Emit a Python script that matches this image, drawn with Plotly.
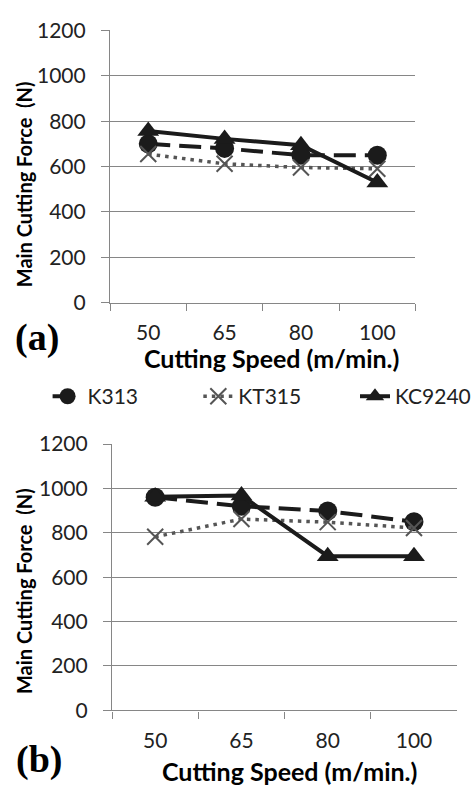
import plotly.graph_objects as go

speeds = ["50", "65", "80", "100"]
series_names = ["K313", "KT315", "KC9240"]

# Panel (a)
a_k313 = [700, 680, 650, 650]
a_kt315 = [655, 612, 596, 590]
a_kc9240 = [757, 722, 694, 530]

# Panel (b)
b_k313 = [960, 920, 898, 850]
b_kt315 = [782, 862, 848, 822]
b_kc9240 = [962, 968, 695, 695]

y_ticks = [0, 200, 400, 600, 800, 1000, 1200]

GRID = "#868686"
DARK = "#1b1b1b"
DOTC = "#555555"
FONT = "Lato"

styles = {
    "K313": dict(line=dict(color=DARK, width=4, dash="22px,9px"),
                 marker=dict(symbol="circle", size=19, color=DARK)),
    "KT315": dict(line=dict(color=DOTC, width=3.5, dash="3.5px,5px"),
                  marker=dict(symbol="x-thin", size=16, color=DOTC,
                              line=dict(color=DOTC, width=2))),
    "KC9240": dict(line=dict(color=DARK, width=4),
                   marker=dict(symbol="triangle-up", size=19, color=DARK)),
}
legend_ids = {"K313": "legend", "KT315": "legend2", "KC9240": "legend3"}

fig = go.Figure()
panels = [("x", "y", [a_k313, a_kt315, a_kc9240], True),
          ("x2", "y2", [b_k313, b_kt315, b_kc9240], False)]
for xa, ya, data, show in panels:
    for name, vals in zip(series_names, data):
        fig.add_trace(go.Scatter(x=speeds, y=vals, mode="lines+markers", name=name,
                                 xaxis=xa, yaxis=ya, showlegend=show,
                                 legend=legend_ids[name], **styles[name]))

W, H = 476, 795

xcommon = dict(type="category", tickson="boundaries", ticks="outside", ticklen=7,
               tickcolor=GRID, tickwidth=1.3, showline=True, linecolor=GRID, linewidth=1.3,
               showgrid=False, zeroline=False, range=[-0.5, 3.5],
               tickfont=dict(family=FONT, size=21, color="#222"), ticklabelstandoff=11,
               fixedrange=True)
ycommon = dict(range=[0, 1200], tickvals=y_ticks, ticks="outside", ticklen=8,
               tickcolor=GRID, tickwidth=1.3, showline=True, linecolor=GRID, linewidth=1.3,
               showgrid=True, gridcolor=GRID, gridwidth=1.3, zeroline=False,
               tickfont=dict(family=FONT, size=21, color="#222"), ticklabelstandoff=11)

def leg(xpx):
    return dict(orientation="h", x=xpx/W, y=1-395/H, xanchor="left", yanchor="middle",
                font=dict(family=FONT, size=21, color="#222"), bgcolor="rgba(0,0,0,0)")

fig.update_layout(
    width=W, height=H, margin=dict(l=0, r=0, t=0, b=0),
    paper_bgcolor="white", plot_bgcolor="white",
    xaxis=dict(domain=[111/W, 419/W], anchor="y", **xcommon),
    yaxis=dict(domain=[1-298/H, 1-17/H], anchor="x", **ycommon),
    xaxis2=dict(domain=[113/W, 461/W], anchor="y2", **xcommon),
    yaxis2=dict(domain=[1-719/H, 1-444/H], anchor="x2", **ycommon),
    legend=leg(48), legend2=leg(200), legend3=leg(358),
    showlegend=True,
)

def ann(text, x, y, size, family=FONT, angle=0, bold=True):
    fig.add_annotation(text=f"<b>{text}</b>" if bold else text, x=x/W, y=1-y/H,
                       xref="paper", yref="paper", showarrow=False, textangle=angle,
                       font=dict(family=family, size=size, color="black"),
                       xanchor="center", yanchor="middle")

ann("Main Cutting Force  (N)", 25, 176, 20, angle=-90)
ann("Main Cutting Force  (N)", 24, 596, 20, angle=-90)
ann("Cutting Speed (m/min.)", 274, 355, 25)
ann("Cutting Speed (m/min.)", 292, 782, 25)
ann("(a)", 37, 334, 38, family="Liberation Serif")
ann("(b)", 39, 770, 38, family="Liberation Serif")

fig.write_html("out.html")
